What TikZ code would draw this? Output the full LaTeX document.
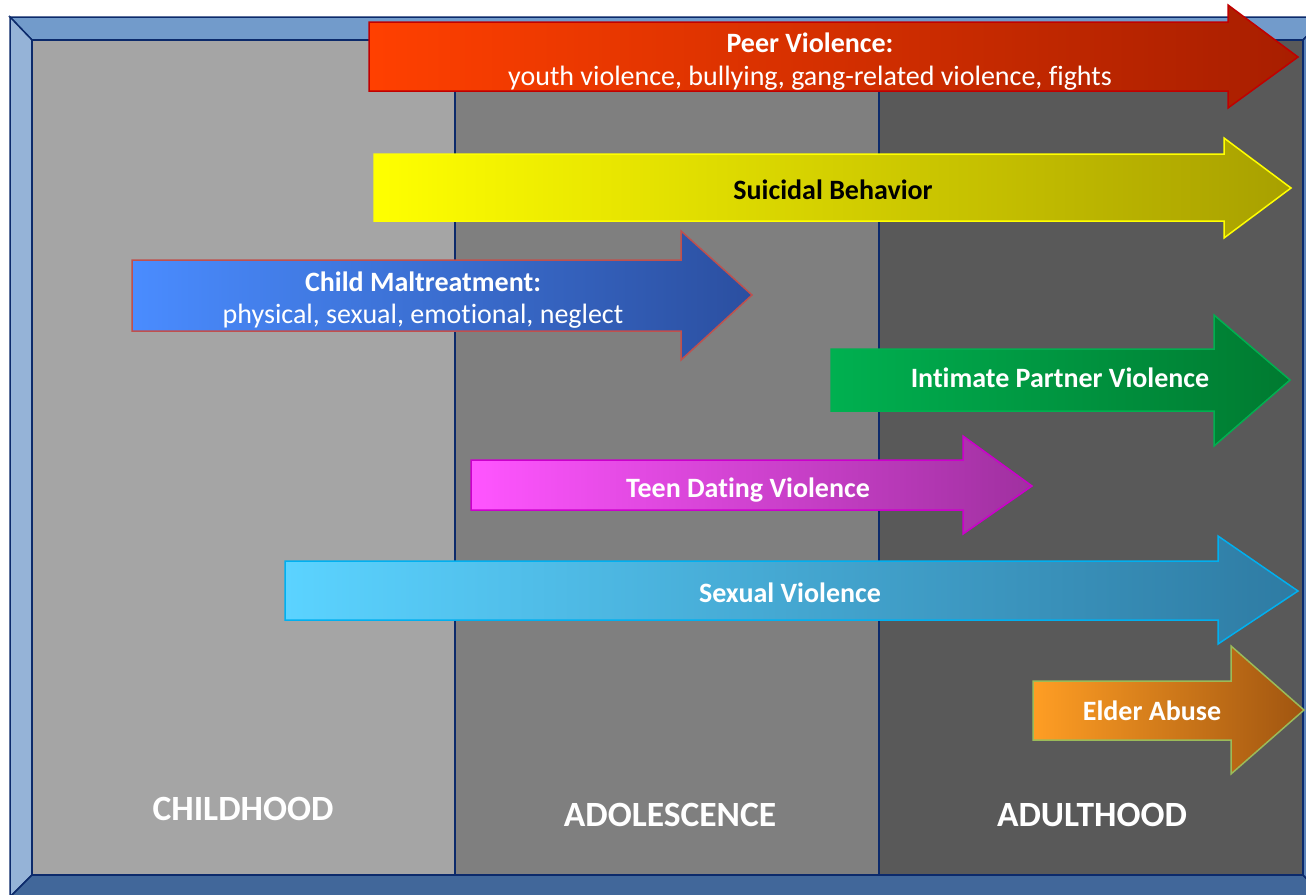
\documentclass[tikz,border=0pt]{standalone}
\usepackage{fontspec}
\setmainfont{Carlito}[Ligatures=NoCommon]
\definecolor{navy}{HTML}{0C2A6B}
\definecolor{bevtop}{HTML}{729BCB}
\definecolor{bevleft}{HTML}{95B3D7}
\definecolor{bevbot}{HTML}{41679A}
\definecolor{bevright}{HTML}{5A82B8}
\definecolor{colA}{HTML}{A5A5A5}
\definecolor{colB}{HTML}{7F7F7F}
\definecolor{colC}{HTML}{595959}
\tikzset{
  bevel/.style={draw=navy, line width=1.5pt},
  divider/.style={draw=navy, line width=2.5pt},
  arrowshape/.style={line width=1.5pt, line join=miter},
  lbl/.style={text=white, anchor=base, font=\fontsize{28}{33}\selectfont, inner sep=0pt},
  lblb/.style={lbl, font=\fontsize{28}{33}\selectfont\bfseries},
  stage/.style={text=white, anchor=base, font=\fontsize{35.5}{42}\selectfont\bfseries, inner sep=0pt}
}
\definecolor{peerL}{HTML}{FF4000}\definecolor{peerR}{HTML}{A81E00}\definecolor{peerD}{HTML}{C00000}
\definecolor{suiL}{HTML}{FFFF00}\definecolor{suiR}{HTML}{A8A000}\definecolor{suiD}{HTML}{FFFF00}
\definecolor{chL}{HTML}{4A8CFF}\definecolor{chR}{HTML}{2B4FA0}\definecolor{chD}{HTML}{C0504D}
\definecolor{ipvL}{HTML}{00B050}\definecolor{ipvR}{HTML}{007A30}\definecolor{ipvD}{HTML}{00B050}
\definecolor{tdL}{HTML}{FF55FF}\definecolor{tdR}{HTML}{A030A0}\definecolor{tdD}{HTML}{CC00CC}
\definecolor{svL}{HTML}{5BD3FF}\definecolor{svR}{HTML}{2E7BA3}\definecolor{svD}{HTML}{00B0F0}
\definecolor{eaL}{HTML}{FF9E24}\definecolor{eaR}{HTML}{A05510}\definecolor{eaD}{HTML}{9BBB59}
\newcommand\vioarrow[8]{%
  \shade[arrowshape, left color=#1L, right color=#1R, draw=#1D]
    (#2,#3) -- (#5,#3) -- (#5,#6) -- (#8) -- (#5,#7) -- (#5,#4) -- (#2,#4) -- cycle;}
\begin{document}
\begin{tikzpicture}[x=1pt,y=-1pt]
\useasboundingbox (0,0) rectangle (1306,894);
\clip (0,0) rectangle (1306,894);
\fill[white] (0,0) rectangle (1306,894);
% bevelled frame
\filldraw[bevel, fill=bevtop] (10,17) -- (1325,17) -- (1303,40) -- (32,40) -- cycle;
\filldraw[bevel, fill=bevleft] (10,17) -- (32,40) -- (32,875) -- (10,897) -- cycle;
\filldraw[bevel, fill=bevbot] (10,897) -- (32,875) -- (1303,875) -- (1325,897) -- cycle;
\filldraw[bevel, fill=bevright] (1325,17) -- (1303,40) -- (1303,875) -- (1325,897) -- cycle;
% columns
\fill[colA] (32,40) rectangle (455,875);
\fill[colB] (455,40) rectangle (879,875);
\fill[colC] (879,40) rectangle (1303,875);
\draw[divider] (455,40) -- (455,875);
\draw[divider] (879,40) -- (879,875);
\draw[navy, line width=2pt] (32,40) rectangle (1303,875);
% arrows
\vioarrow{peer}{369}{22}{91}{1228}{5}{108}{1298,57}
\vioarrow{sui}{374}{154}{221}{1224}{138}{238}{1291,188}
\vioarrow{ch}{132}{260}{331}{681}{231}{360}{752,295}
\vioarrow{ipv}{831}{349}{411}{1214}{315}{446}{1290,380}
\vioarrow{td}{471}{460}{510}{963}{436}{534}{1032,486}
\vioarrow{sv}{285}{561}{620}{1218}{536}{644}{1298,591}
\vioarrow{ea}{1033}{681}{740}{1231}{646}{774}{1304,710}
% labels
\node[lblb] (peerT) at (810,52) {Peer Violence:};
\node[lbl] (peerS) at (810,85) {youth violence, bullying, gang-related violence, fights};
\node[lblb, text=black] (suiT) at (833,199) {Suicidal Behavior};
\node[lblb] (chT) at (423,291) {Child Maltreatment:};
\node[lbl] (chS) at (423,323) {physical, sexual, emotional, neglect};
\node[lblb] (ipvT) at (1060,387) {Intimate Partner Violence};
\node[lblb] (tdT) at (748,497) {Teen Dating Violence};
\node[lblb] (svT) at (790,602) {Sexual Violence};
\node[lblb] (eaT) at (1152,720) {Elder Abuse};
\node[stage] (child) at (243,820) {CHILDHOOD};
\node[stage] (adol) at (670,826) {ADOLESCENCE};
\node[stage] (adult) at (1092,826) {ADULTHOOD};
\end{tikzpicture}
\end{document}
